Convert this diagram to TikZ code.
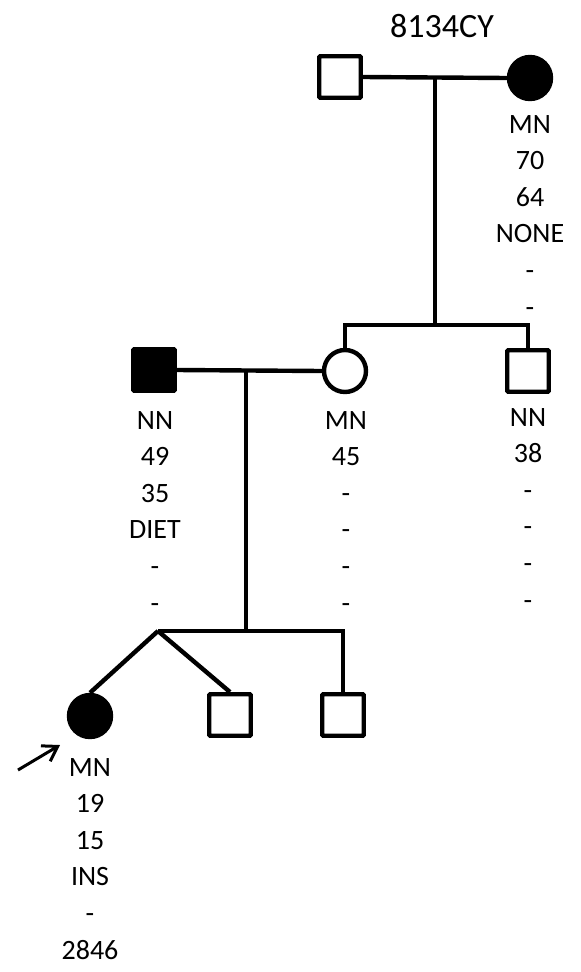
\documentclass[tikz,border=0pt]{standalone}
\usepackage{fontspec}
\setmainfont{Carlito}
\usetikzlibrary{arrows.meta}
\begin{document}
\begin{tikzpicture}[x=1pt,y=-1pt,
  lw/.style={line width=4.4pt},
  male/.style={draw,lw,rectangle,minimum size=41.5pt,inner sep=0pt,rounded corners=1pt},
  female/.style={draw,lw,circle,minimum size=42pt,inner sep=0pt},
  aff/.style={fill=black},
  info/.style={anchor=north,inner sep=0pt,align=center,font=\fontsize{28}{36.6}\selectfont},
  conn/.style={lw}]
\useasboundingbox (0,0) rectangle (581,972);
\node[font=\fontsize{34}{36}\selectfont,anchor=base,inner sep=0pt] (title) at (442,37) {8134CY};
% generation I
\node[male] (gf) at (340,77) {};
\node[female,aff] (gm) at (530,78) {};
\coordinate (m1) at (435,78);
\coordinate (s1) at (435,325);
\draw[conn] (gf.east) -- (gm.west);
\draw[conn] (m1) -- (s1);
% generation II
\node[male,aff] (fa) at (154,370) {};
\node[female] (mo) at (345,371) {};
\node[male] (un) at (528,371) {};
\draw[conn] (mo.north) -- (mo.north |- s1) -- (un.north |- s1) -- (un.north);
\coordinate (m2) at (246,371);
\draw[conn] (fa.east) -- (mo.west);
% generation III
\node[female,aff] (pb) at (90,716) {};
\node[male] (b1) at (230,715) {};
\node[male] (b2) at (343,715) {};
\coordinate (tw) at (158,631);
\coordinate (s2) at (246,631);
\draw[conn] (m2) -- (s2);
\draw[conn] (tw) -- (b2.north |- tw) -- (b2.north);
\draw[conn] (tw) -- (pb.north);
\draw[conn] (tw) -- (b1.north);
% proband arrow
\coordinate (at) at (18,770);
\coordinate (ah) at (60,745);
\draw[line width=3pt,-{Straight Barb[length=14pt,width=18pt,line width=3pt]}] (at) -- (ah);
% labels
\node[info] (tgm) at (530,115) {MN\\70\\64\\NONE\\-\\-};
\node[info] (tfa) at (155,411) {NN\\49\\35\\DIET\\-\\-};
\node[info] (tmo) at (346,411) {MN\\45\\-\\-\\-\\-};
\node[info] (tun) at (528,408) {NN\\38\\-\\-\\-\\-};
\node[info] (tpb) at (90,758) {MN\\19\\15\\INS\\-\\2846};
\end{tikzpicture}
\end{document}
